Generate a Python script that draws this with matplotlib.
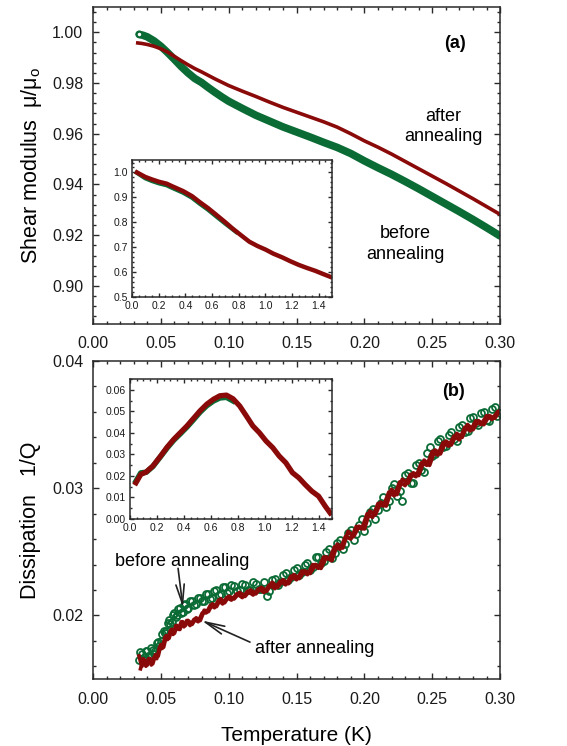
import matplotlib
matplotlib.use("Agg")
import matplotlib.pyplot as plt
from matplotlib.ticker import MultipleLocator, FormatStrFormatter

plt.rcParams['font.family'] = ['Liberation Sans', 'DejaVu Sans']
plt.rcParams['mathtext.fontset'] = 'custom'
plt.rcParams['mathtext.rm'] = 'Liberation Sans'
plt.rcParams['mathtext.it'] = 'Liberation Sans:italic'

GREEN = '#0b6b35'
RED = '#8a0a0a'
AX = '#2a2a2a'

# ---------------- Panel (a): shear modulus ----------------
a_before_T = [0.034, 0.037, 0.040, 0.045, 0.050, 0.055, 0.060, 0.065, 0.070, 0.075,
              0.080, 0.085, 0.090, 0.095, 0.100, 0.110, 0.120, 0.130, 0.140, 0.150,
              0.160, 0.170, 0.180, 0.190, 0.200, 0.210, 0.220, 0.230, 0.240, 0.250,
              0.260, 0.270, 0.280, 0.290, 0.300]
a_before_mu = [0.9992, 0.9988, 0.9982, 0.9966, 0.9945, 0.9920, 0.9893, 0.9865, 0.9840, 0.9818,
               0.9802, 0.9782, 0.9763, 0.9745, 0.9728, 0.9700, 0.9673, 0.9650, 0.9627, 0.9607,
               0.9587, 0.9566, 0.9546, 0.9522, 0.9493, 0.9466, 0.9440, 0.9412, 0.9383, 0.9353,
               0.9323, 0.9293, 0.9262, 0.9230, 0.9197]

a_after_T = [0.033, 0.036, 0.040, 0.045, 0.050, 0.055, 0.060, 0.065, 0.070, 0.075,
             0.080, 0.085, 0.090, 0.095, 0.100, 0.110, 0.120, 0.130, 0.140, 0.150,
             0.160, 0.170, 0.180, 0.190, 0.200, 0.210, 0.220, 0.230, 0.240, 0.250,
             0.260, 0.270, 0.280, 0.290, 0.300]
a_after_mu = [0.9958, 0.9956, 0.9952, 0.9945, 0.9935, 0.9922, 0.9905, 0.9888, 0.9872, 0.9857,
              0.9844, 0.9830, 0.9816, 0.9803, 0.9790, 0.9768, 0.9747, 0.9725, 0.9704, 0.9685,
              0.9666, 0.9647, 0.9626, 0.9600, 0.9572, 0.9547, 0.9520, 0.9491, 0.9462, 0.9433,
              0.9404, 0.9374, 0.9344, 0.9313, 0.9282]

# inset (a)
ia_after_T = [0.037, 0.10, 0.15, 0.20, 0.26, 0.30, 0.384, 0.45, 0.508, 0.57, 0.632, 0.70,
              0.756, 0.82, 0.88, 0.94, 1.003, 1.06, 1.127, 1.19, 1.25, 1.31, 1.375, 1.43, 1.487]
ia_after_mu = [1.000, 0.982, 0.972, 0.963, 0.955, 0.945, 0.925, 0.905, 0.881, 0.857, 0.830, 0.800,
               0.774, 0.747, 0.722, 0.705, 0.690, 0.674, 0.659, 0.643, 0.629, 0.617, 0.605, 0.593, 0.581]
ia_before_T = [0.037, 0.10, 0.15, 0.20, 0.26, 0.30, 0.384, 0.45, 0.508, 0.57, 0.632, 0.70, 0.78]
ia_before_mu = [0.999, 0.977, 0.966, 0.957, 0.949, 0.939, 0.919, 0.899, 0.875, 0.851, 0.824, 0.795, 0.762]

# ---------------- Panel (b): dissipation ----------------
b_T = [0.034, 0.036, 0.038, 0.040, 0.042, 0.044, 0.046, 0.048, 0.050, 0.052,
       0.054, 0.056, 0.058, 0.060, 0.062, 0.064, 0.066, 0.068, 0.070, 0.073,
       0.076, 0.079, 0.082, 0.085, 0.088, 0.091, 0.094, 0.097, 0.100, 0.104,
       0.108, 0.112, 0.116, 0.120, 0.124, 0.128, 0.132, 0.136, 0.140, 0.144,
       0.148, 0.152, 0.156, 0.160, 0.164, 0.168, 0.172, 0.176, 0.180, 0.184,
       0.188, 0.192, 0.196, 0.200, 0.204, 0.208, 0.212, 0.216, 0.220, 0.224,
       0.228, 0.232, 0.236, 0.240, 0.244, 0.248, 0.252, 0.256, 0.260, 0.264,
       0.268, 0.272, 0.276, 0.280, 0.284, 0.288, 0.292, 0.296, 0.300]

b_before_Q = [0.0165, 0.0170, 0.0167, 0.0172, 0.0169, 0.0173, 0.0172, 0.0179, 0.0180, 0.0188,
              0.0188, 0.0196, 0.0195, 0.0202, 0.0200, 0.0206, 0.0203, 0.0209, 0.0206, 0.0211,
              0.0209, 0.0214, 0.0211, 0.0217, 0.0214, 0.0220, 0.0217, 0.0222, 0.0219, 0.0223,
              0.0220, 0.0224, 0.0220, 0.0225, 0.0221, 0.0215, 0.0228, 0.0224, 0.0232, 0.0228,
              0.0236, 0.0232, 0.0240, 0.0236, 0.0246, 0.0241, 0.0250, 0.0245, 0.0257, 0.0252,
              0.0265, 0.0259, 0.0271, 0.0266, 0.0281, 0.0276, 0.0288, 0.0285, 0.0300, 0.0294,
              0.0290, 0.0312, 0.0304, 0.0320, 0.0313, 0.0332, 0.0327, 0.0339, 0.0333, 0.0344,
              0.0337, 0.0350, 0.0345, 0.0356, 0.0350, 0.0360, 0.0353, 0.0364, 0.0359]

b_after_Q = [0.0168, 0.0160, 0.0165, 0.0161, 0.0166, 0.0162, 0.0169, 0.0168, 0.0177, 0.0175,
             0.0184, 0.0182, 0.0189, 0.0186, 0.0192, 0.0189, 0.0195, 0.0192, 0.0196, 0.0193,
             0.0198, 0.0196, 0.0204, 0.0203, 0.0209, 0.0207, 0.0213, 0.0210, 0.0215, 0.0213,
             0.0218, 0.0215, 0.0220, 0.0217, 0.0222, 0.0219, 0.0226, 0.0222, 0.0228, 0.0225,
             0.0232, 0.0229, 0.0235, 0.0233, 0.0240, 0.0237, 0.0246, 0.0243, 0.0256, 0.0253,
             0.0266, 0.0262, 0.0270, 0.0268, 0.0282, 0.0279, 0.0289, 0.0286, 0.0299, 0.0295,
             0.0307, 0.0304, 0.0312, 0.0310, 0.0322, 0.0318, 0.0330, 0.0327, 0.0337, 0.0334,
             0.0343, 0.0340, 0.0350, 0.0346, 0.0353, 0.0350, 0.0357, 0.0355, 0.0361]

# second sweep, sampled between the first one's temperatures
b_T2 = [0.035, 0.037, 0.039, 0.041, 0.043, 0.045, 0.047, 0.049, 0.051, 0.053,
        0.055, 0.057, 0.059, 0.061, 0.063, 0.065, 0.067, 0.069, 0.0715, 0.0745,
        0.0775, 0.0805, 0.0835, 0.0865, 0.0895, 0.0925, 0.0955, 0.0985, 0.102, 0.106,
        0.110, 0.114, 0.118, 0.122, 0.126, 0.130, 0.134, 0.138, 0.142, 0.146,
        0.150, 0.154, 0.158, 0.162, 0.166, 0.170, 0.174, 0.178, 0.182, 0.186,
        0.190, 0.194, 0.198, 0.202, 0.206, 0.210, 0.214, 0.218, 0.222, 0.226,
        0.230, 0.234, 0.238, 0.242, 0.246, 0.250, 0.254, 0.258, 0.262, 0.266,
        0.270, 0.274, 0.278, 0.282, 0.286, 0.290, 0.294, 0.298]

b_before_Q2 = [0.0171, 0.0166, 0.0172, 0.0168, 0.0174, 0.0170, 0.0178, 0.0176, 0.0185, 0.0186,
               0.0194, 0.0193, 0.0200, 0.0199, 0.0205, 0.0202, 0.0208, 0.0205, 0.0211, 0.0208,
               0.0214, 0.0211, 0.0217, 0.0213, 0.0219, 0.0216, 0.0222, 0.0218, 0.0224, 0.0219,
               0.0225, 0.0220, 0.0226, 0.0221, 0.0226, 0.0219, 0.0229, 0.0226, 0.0233, 0.0230,
               0.0237, 0.0234, 0.0241, 0.0238, 0.0246, 0.0243, 0.0252, 0.0249, 0.0259, 0.0256,
               0.0267, 0.0264, 0.0276, 0.0273, 0.0284, 0.0283, 0.0293, 0.0290, 0.0303, 0.0298,
               0.0310, 0.0304, 0.0318, 0.0314, 0.0328, 0.0325, 0.0337, 0.0332, 0.0342, 0.0339,
               0.0348, 0.0344, 0.0355, 0.0351, 0.0359, 0.0354, 0.0362, 0.0357]

b_after_Q2 = [0.0158, 0.0166, 0.0160, 0.0166, 0.0161, 0.0167, 0.0166, 0.0175, 0.0174, 0.0183,
              0.0181, 0.0188, 0.0185, 0.0192, 0.0189, 0.0195, 0.0191, 0.0196, 0.0192, 0.0197,
              0.0195, 0.0202, 0.0202, 0.0208, 0.0206, 0.0212, 0.0209, 0.0214, 0.0212, 0.0217,
              0.0214, 0.0219, 0.0216, 0.0221, 0.0218, 0.0224, 0.0221, 0.0227, 0.0224, 0.0231,
              0.0228, 0.0235, 0.0232, 0.0240, 0.0237, 0.0246, 0.0244, 0.0254, 0.0252, 0.0262,
              0.0260, 0.0270, 0.0268, 0.0280, 0.0277, 0.0288, 0.0286, 0.0297, 0.0294, 0.0305,
              0.0302, 0.0311, 0.0309, 0.0320, 0.0318, 0.0329, 0.0326, 0.0336, 0.0333, 0.0341,
              0.0338, 0.0348, 0.0345, 0.0353, 0.0350, 0.0357, 0.0354, 0.0360]

# inset (b)
ib_after_T = [0.044, 0.08, 0.12, 0.17, 0.227, 0.276, 0.325, 0.374, 0.423, 0.47, 0.52, 0.57,
              0.62, 0.667, 0.716, 0.765, 0.814, 0.863, 0.912, 0.96, 1.01, 1.06, 1.108, 1.157,
              1.206, 1.254, 1.30, 1.35, 1.40, 1.45, 1.486]
ib_after_Q = [0.0168, 0.0207, 0.0218, 0.0246, 0.0292, 0.0334, 0.0370, 0.0401, 0.0432, 0.0466,
              0.0502, 0.0533, 0.0556, 0.0572, 0.0575, 0.0558, 0.0525, 0.0479, 0.0432, 0.0401,
              0.0362, 0.0331, 0.0292, 0.0261, 0.0215, 0.0191, 0.0160, 0.0129, 0.0106, 0.0059,
              0.0028]
ib_before_T = [0.044, 0.08, 0.12, 0.17, 0.227, 0.276, 0.325, 0.374, 0.423, 0.47, 0.52, 0.57,
               0.62, 0.667, 0.716, 0.765]
ib_before_Q = [0.0175, 0.0214, 0.0217, 0.0244, 0.0290, 0.0330, 0.0366, 0.0396, 0.0427, 0.0460,
               0.0496, 0.0526, 0.0548, 0.0562, 0.0565, 0.0548]

fig = plt.figure(figsize=(5.67, 7.46), dpi=100)

def style(ax, major_len=4.5, minor_len=2.5, size=11.5, xpad=9, ypad=7):
    for s in ax.spines.values():
        s.set_color(AX)
        s.set_linewidth(1.1)
    ax.tick_params(which='both', direction='in', top=True, right=True, colors=AX,
                   labelcolor='#1a1a1a', width=1.0)
    ax.tick_params(which='major', length=major_len, labelsize=size)
    ax.tick_params(axis='x', which='major', pad=xpad)
    ax.tick_params(axis='y', which='major', pad=ypad)
    ax.tick_params(which='minor', length=minor_len)

# ---- top main axes
axA = fig.add_axes([0.164, 0.5657, 0.718, 0.4250])
axA.plot(a_before_T, a_before_mu, '-', color=GREEN, lw=5.5, solid_capstyle='round')
axA.plot(a_before_T[:1], a_before_mu[:1], 'o', ms=4, mfc='white', mec=GREEN, mew=1.5)
axA.plot(a_after_T, a_after_mu, '-', color=RED, lw=2.6)
axA.set_xlim(0.0, 0.30)
axA.set_ylim(0.885, 1.01)
axA.xaxis.set_major_locator(MultipleLocator(0.05))
axA.xaxis.set_minor_locator(MultipleLocator(0.01))
axA.yaxis.set_major_locator(MultipleLocator(0.02))
axA.yaxis.set_minor_locator(MultipleLocator(0.004))
axA.xaxis.set_major_formatter(FormatStrFormatter('%.2f'))
axA.yaxis.set_major_formatter(FormatStrFormatter('%.2f'))
style(axA)
axA.set_ylabel('Shear modulus  μ/μ$_\\mathrm{o}$', fontsize=15.5, labelpad=6)
axA.text(0.2668, 0.9957, '(a)', fontsize=13, fontweight='bold', ha='center', va='center')
axA.text(0.258, 0.9628, 'after\nannealing', fontsize=13, ha='center', va='center', linespacing=1.25)
axA.text(0.23, 0.9165, 'before\nannealing', fontsize=13, ha='center', va='center', linespacing=1.25)

# ---- top inset
iA = fig.add_axes([0.2328, 0.6019, 0.3527, 0.1836])
iA.plot(ia_before_T, ia_before_mu, '-', color=GREEN, lw=3.2)
iA.plot(ia_after_T, ia_after_mu, '-', color=RED, lw=3.2)
iA.set_xlim(0.0, 1.5)
iA.set_ylim(0.5, 1.05)
iA.xaxis.set_major_locator(MultipleLocator(0.2))
iA.xaxis.set_minor_locator(MultipleLocator(0.05))
iA.yaxis.set_major_locator(MultipleLocator(0.1))
iA.yaxis.set_minor_locator(MultipleLocator(0.02))
iA.xaxis.set_major_formatter(FormatStrFormatter('%.1f'))
iA.yaxis.set_major_formatter(FormatStrFormatter('%.1f'))
style(iA, major_len=3, minor_len=1.6, size=7.5, xpad=3, ypad=3)

# ---- bottom main axes
axB = fig.add_axes([0.164, 0.0898, 0.718, 0.4263])
axB.plot(b_T, b_before_Q, 'o', ms=5, mfc='none', mec=GREEN, mew=1.3)
axB.plot(b_T2, b_before_Q2, 'o', ms=5, mfc='none', mec=GREEN, mew=1.3)
axB.plot(b_T2, b_after_Q2, '-', color=RED, lw=2.6)
axB.plot(b_T, b_after_Q, '-', color=RED, lw=2.8)
axB.set_xlim(0.0, 0.30)
axB.set_ylim(0.015, 0.04)
axB.xaxis.set_major_locator(MultipleLocator(0.05))
axB.xaxis.set_minor_locator(MultipleLocator(0.01))
axB.yaxis.set_major_locator(MultipleLocator(0.01))
axB.yaxis.set_minor_locator(MultipleLocator(0.002))
axB.xaxis.set_major_formatter(FormatStrFormatter('%.2f'))
axB.yaxis.set_major_formatter(FormatStrFormatter('%.2f'))
style(axB)
axB.set_ylabel('Dissipation   1/Q', fontsize=15.5, labelpad=8)
axB.set_xlabel('Temperature (K)', fontsize=15, labelpad=14)
axB.text(0.266, 0.03764, '(b)', fontsize=13, fontweight='bold', ha='center', va='center')
axB.text(0.0162, 0.02427, 'before annealing', fontsize=13, ha='left', va='center')
axB.text(0.1194, 0.01743, 'after annealing', fontsize=13, ha='left', va='center')
arrow = dict(arrowstyle='->,head_length=1.4,head_width=0.3', color='#222222', lw=1.2,
             shrinkA=0, shrinkB=0)
axB.annotate('', xy=(0.0663, 0.0206), xytext=(0.0627, 0.0237), arrowprops=arrow)
axB.annotate('', xy=(0.0801, 0.0196), xytext=(0.1157, 0.0179), arrowprops=arrow)

# ---- bottom inset
iB = fig.add_axes([0.2293, 0.3043, 0.3563, 0.1877])
iB.plot(ib_before_T, ib_before_Q, '-', color=GREEN, lw=4)
iB.plot(ib_after_T, ib_after_Q, '-', color=RED, lw=3.8)
iB.set_xlim(0.0, 1.5)
iB.set_ylim(0.0, 0.065)
iB.xaxis.set_major_locator(MultipleLocator(0.2))
iB.xaxis.set_minor_locator(MultipleLocator(0.05))
iB.yaxis.set_major_locator(MultipleLocator(0.01))
iB.yaxis.set_minor_locator(MultipleLocator(0.005))
iB.xaxis.set_major_formatter(FormatStrFormatter('%.1f'))
iB.yaxis.set_major_formatter(FormatStrFormatter('%.2f'))
style(iB, major_len=3, minor_len=1.6, size=7.5, xpad=3, ypad=3)

fig.savefig('out.png', dpi=100)
